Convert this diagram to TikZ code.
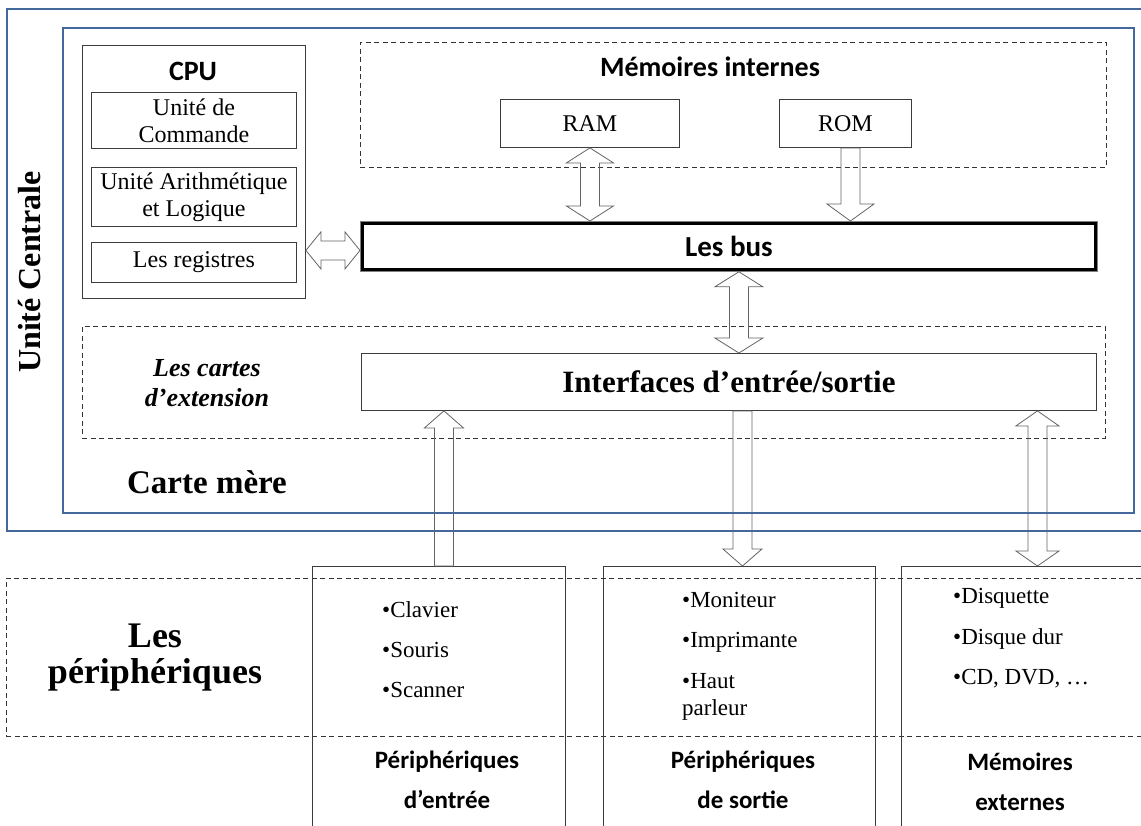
\documentclass[tikz,border=0pt]{standalone}
\usepackage{fontspec}
\setmainfont{Liberation Serif}
\setsansfont{Carlito}
\usetikzlibrary{calc}

\definecolor{bleucadre}{RGB}{68,104,155}
\definecolor{trait}{RGB}{60,60,60}
\definecolor{traitfleche}{RGB}{100,100,100}

\tikzstyle{boite}=[draw=trait,line width=0.9pt,inner sep=0pt,anchor=north west,align=center]
\tikzstyle{cadre}=[draw=bleucadre,line width=2.2pt]
\tikzstyle{pointille}=[draw=black!80,line width=0.9pt,dash pattern=on 5pt off 3.5pt]
\tikzstyle{fleche}=[draw=traitfleche,line width=0.8pt,line join=miter]
\tikzstyle{item}=[anchor=base west,inner sep=0pt,align=left,font=\fontsize{23}{27}\selectfont]

% hollow block arrows: #1 start, #2 end, #3 half width of the head
\newcommand{\flechesimple}[3]{%
  \coordinate (fh) at ($(#2)!17pt!(#1)$);
  \draw[fleche] ($(#1)!9.5pt!90:(#2)$) -- ($(fh)!9.5pt!90:(#2)$) -- ($(fh)!#3!90:(#2)$) -- (#2)
    -- ($(fh)!#3!-90:(#2)$) -- ($(fh)!9.5pt!-90:(#2)$) -- ($(#1)!9.5pt!-90:(#2)$) -- cycle;
}
\newcommand{\flechedouble}[3]{%
  \coordinate (fa) at ($(#1)!15pt!(#2)$);
  \coordinate (fb) at ($(#2)!15pt!(#1)$);
  \draw[fleche] (#1) -- ($(fa)!#3!90:(#2)$) -- ($(fa)!9.5pt!90:(#2)$) -- ($(fb)!9.5pt!90:(#2)$)
    -- ($(fb)!#3!90:(#2)$) -- (#2) -- ($(fb)!#3!-90:(#2)$) -- ($(fb)!9.5pt!-90:(#2)$)
    -- ($(fa)!9.5pt!-90:(#2)$) -- ($(fa)!#3!-90:(#2)$) -- cycle;
}

\begin{document}
\begin{tikzpicture}[x=1pt,y=-1pt]
  \useasboundingbox (0,0) rectangle (1141,825);
  % Unite centrale and carte mere
  \node[boite,cadre,minimum width=1154pt,minimum height=522pt] (ucentrale) at (6,8) {};
  \node[boite,cadre,minimum width=1071pt,minimum height=485pt] (cartemere) at (62,27) {};
  \node[rotate=90,font=\bfseries\fontsize{32}{34}\selectfont] (uctxt) at (30,272) {Unité Centrale};
  \node[font=\bfseries\fontsize{33}{35}\selectfont] (cmtxt) at (207,482) {Carte mère};

  % CPU
  \node[boite,minimum width=223pt,minimum height=253pt] (cpu) at (82,45) {};
  \node[font=\sffamily\bfseries\fontsize{28}{30}\selectfont] (cputxt) at (193,71) {CPU};
  \node[boite,minimum width=205pt,minimum height=56pt,font=\fontsize{24}{27}\selectfont] (cmd) at (91,92) {Unité de\\Commande};
  \node[boite,minimum width=205pt,minimum height=59pt,font=\fontsize{24}{27}\selectfont] (ual) at (91,167) {Unité Arithmétique\\et Logique};
  \node[boite,minimum width=205pt,minimum height=40pt,font=\fontsize{24}{27}\selectfont] (reg) at (91,242) {Les registres};

  % Memoires internes
  \node[boite,pointille,minimum width=746pt,minimum height=125pt] (memint) at (360,42) {};
  \node[font=\sffamily\bfseries\fontsize{28}{30}\selectfont] (memtxt) at (710,67) {Mémoires internes};
  \node[boite,minimum width=179pt,minimum height=48pt,font=\fontsize{24}{26}\selectfont] (ram) at (500,99) {RAM};
  \node[boite,minimum width=132pt,minimum height=48pt,font=\fontsize{24}{26}\selectfont] (rom) at (779,99) {ROM};

  % Bus
  \node[boite,draw=gray,line width=0.8pt,minimum width=737pt,minimum height=50pt,font=\sffamily\bfseries\fontsize{29}{30}\selectfont] (bus) at (360,221) {Les bus};
  \draw[line width=2.4pt] ($(bus.north west)+(2.5,2.5)$) rectangle ($(bus.south east)+(-2.5,-2.5)$);

  % Cartes d'extension
  \node[boite,pointille,minimum width=1023pt,minimum height=112pt] (cartes) at (82,326) {};
  \node[align=center,font=\bfseries\itshape\fontsize{26}{30}\selectfont] (cartestxt) at (207,383) {Les cartes\\d’extension};
  \node[boite,minimum width=735pt,minimum height=57pt,font=\bfseries\fontsize{31}{33}\selectfont] (io) at (361,353) {Interfaces d’entrée/sortie};

  % Peripheriques
  \node[boite,pointille,minimum width=1160pt,minimum height=158pt] (periph) at (6,578) {};
  \node[align=center,font=\bfseries\fontsize{36}{36}\selectfont] (periphtxt) at (155,658) {Les\\périphériques};
  \node[boite,minimum width=253pt,minimum height=300pt] (entree) at (312,566) {};
  \node[boite,minimum width=272pt,minimum height=300pt] (sortie) at (603,566) {};
  \node[boite,minimum width=280pt,minimum height=300pt] (memext) at (901,566) {};
  \foreach \nom/\yy [count=\i] in {Clavier/617,Souris/657,Scanner/697}
    \node[item] (e\i) at (382,\yy) {•\nom};
  \foreach \nom/\yy [count=\i] in {Moniteur/607,Imprimante/647,{Haut\\parleur}/715}
    \node[item] (s\i) at (682,\yy) {•\nom};
  \foreach \nom/\yy [count=\i] in {Disquette/603,Disque dur/644,{CD, DVD, …}/684}
    \node[item] (m\i) at (953,\yy) {•\nom};
  \node[align=center,font=\sffamily\bfseries\fontsize{25}{40}\selectfont] (entreetxt) at (447,780) {Périphériques\\d’entrée};
  \node[align=center,font=\sffamily\bfseries\fontsize{25}{40}\selectfont] (sortietxt) at (743,780) {Périphériques\\de sortie};
  \node[align=center,font=\sffamily\bfseries\fontsize{25}{40}\selectfont] (memexttxt) at (1020,782) {Mémoires\\externes};

  % Connect the blocks with hollow arrows
  \coordinate (cpuB) at ($(bus.west)+(0,4)$);
  \coordinate (cpuA) at (cpu.east |- cpuB);
  \flechedouble{cpuA}{cpuB}{18.5pt}
  \coordinate (ramB) at (ram.south |- bus.north);
  \flechedouble{ram.south}{ramB}{23.5pt}
  \coordinate (romA) at ($(rom.south)+(5,0)$);
  \coordinate (romB) at (romA |- bus.north);
  \flechesimple{romA}{romB}{23.5pt}
  \coordinate (busA) at ($(bus.south)+(10,0)$);
  \coordinate (ioA) at (busA |- io.north);
  \flechedouble{busA}{ioA}{24pt}
  \coordinate (inA) at ($(entree.north)+(5,0)$);
  \coordinate (inB) at (inA |- io.south);
  \flechesimple{inA}{inB}{19.5pt}
  \coordinate (outB) at ($(sortie.north)+(3,0)$);
  \coordinate (outA) at (outB |- io.south);
  \flechesimple{outA}{outB}{19.5pt}
  \coordinate (extB) at ($(memext.north)+(-4,0)$);
  \coordinate (extA) at (extB |- io.south);
  \flechedouble{extA}{extB}{21.5pt}
\end{tikzpicture}
\end{document}
